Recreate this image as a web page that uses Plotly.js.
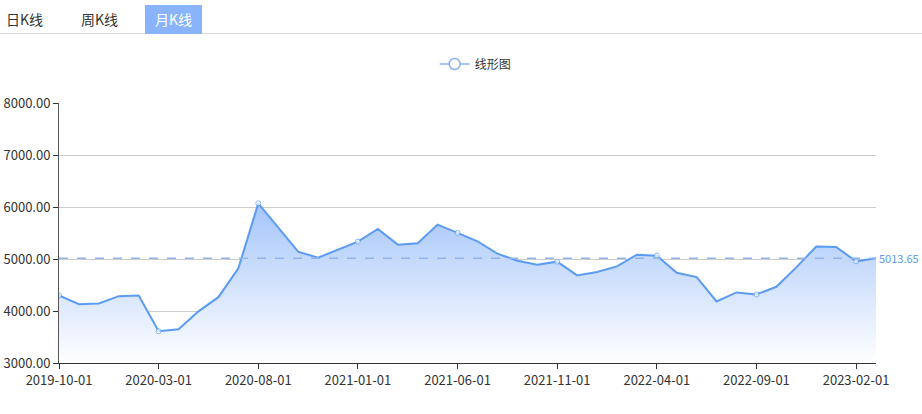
<!DOCTYPE html>
<html>
<head>
<meta charset="utf-8">
<script src="https://cdn.plot.ly/plotly-3.0.1.min.js"></script>
<style>
  body { margin: 0; background: #fff; font-family: "Noto Sans CJK SC", sans-serif; }
  #wrap { position: relative; width: 922px; height: 414px; overflow: hidden; }
  #tabs { position: absolute; left: 0; top: 0; width: 922px; height: 33px; border-bottom: 1px solid #ddd; z-index: 2; }
  .tab { position: absolute; top: 5px; height: 29px; line-height: 29px; font-size: 14px; color: #333; padding: 0 10px; }
  .tab.on { background: #89b4fc; color: #fff; }
  #myDiv { position: absolute; left: 0; top: 0; width: 922px; height: 414px; }
</style>
</head>
<body>
<div id="wrap">
  <div id="myDiv"></div>
  <div id="tabs">
    <div class="tab" style="left:-4px">日K线</div>
    <div class="tab" style="left:71px">周K线</div>
    <div class="tab on" style="left:145px">月K线</div>
  </div>
</div>
<script>
// monthly closes, 2019-10 .. 2023-03
var months = ['2019-10-01','2019-11-01','2019-12-01','2020-01-01','2020-02-01','2020-03-01',
  '2020-04-01','2020-05-01','2020-06-01','2020-07-01','2020-08-01','2020-09-01','2020-10-01',
  '2020-11-01','2020-12-01','2021-01-01','2021-02-01','2021-03-01','2021-04-01','2021-05-01',
  '2021-06-01','2021-07-01','2021-08-01','2021-09-01','2021-10-01','2021-11-01','2021-12-01',
  '2022-01-01','2022-02-01','2022-03-01','2022-04-01','2022-05-01','2022-06-01','2022-07-01',
  '2022-08-01','2022-09-01','2022-10-01','2022-11-01','2022-12-01','2023-01-01','2023-02-01',
  '2023-03-01'];
var prices = [4300, 4131, 4145, 4286, 4299, 3610, 3649, 3993, 4266, 4820, 6070,
  5610, 5141, 5025, 5187, 5334, 5579, 5276, 5303, 5662, 5502, 5341, 5103, 4968,
  4890, 4949, 4685, 4749, 4858, 5083, 5064, 4736, 4653, 4183, 4357, 4318, 4466,
  4839, 5238, 5232, 4955, 5013.65];
var lastValue = 5013.65;
var tickMonths = months.filter(function (m, i) { return i % 5 === 0; });
var yTicks = [3000, 4000, 5000, 6000, 7000, 8000];

var blue = '#5b9cf2';
var markerSizes = months.map(function (m, i) { return i % 5 === 0 ? 5 : 0; });

var data = [{
  x: months,
  y: prices,
  type: 'scatter',
  mode: 'lines+markers',
  name: '线形图',
  showlegend: false,
  line: { color: blue, width: 2 },
  marker: { symbol: 'circle', size: markerSizes, color: '#fff', line: { color: blue, width: 1 } },
  fill: 'tozeroy',
  fillgradient: {
    type: 'vertical',
    start: 3000,
    stop: 6100,
    colorscale: [[0, 'rgba(255,255,255,1)'], [1, 'rgba(164,196,250,1)']]
  },
  hoverinfo: 'x+y'
}, {
  // legend entry only
  x: [null],
  y: [null],
  type: 'scatter',
  mode: 'lines+markers',
  name: '线形图',
  line: { color: '#8ab2ef', width: 1.5 },
  marker: { symbol: 'circle', size: 11, color: '#fff', line: { color: '#8ab2ef', width: 1.5 } },
  hoverinfo: 'skip'
}];

var layout = {
  width: 922,
  height: 414,
  margin: { l: 59, r: 46, t: 103, b: 51 },
  paper_bgcolor: '#fff',
  plot_bgcolor: '#fff',
  font: { family: '"Noto Sans CJK SC", sans-serif', size: 12, color: '#333' },
  showlegend: true,
  legend: {
    orientation: 'h', x: 0.51, xanchor: 'center', y: 1.15, yanchor: 'middle',
    font: { size: 12, color: '#333' }
  },
  xaxis: {
    type: 'category',
    range: [0, months.length - 1],
    tickvals: tickMonths,
    ticktext: tickMonths,
    ticks: 'outside', ticklen: 5, tickcolor: '#333',
    showline: true, linecolor: '#333', linewidth: 1,
    showgrid: false, zeroline: false,
    tickfont: { size: 13, color: '#333' }
  },
  yaxis: {
    range: [3000, 8000],
    tickvals: yTicks,
    tickformat: '.2f',
    ticks: 'outside', ticklen: 5, tickcolor: '#333',
    showline: true, linecolor: '#555', linewidth: 1,
    gridcolor: '#ccc', zeroline: false,
    tickfont: { size: 13, color: '#333' }
  },
  shapes: [{
    type: 'line', xref: 'paper', x0: 0, x1: 1, yref: 'y', y0: lastValue, y1: lastValue,
    line: { color: '#8fb4ee', width: 1.5, dash: 'dash' }
  }],
  annotations: [{
    xref: 'paper', x: 1, xanchor: 'left', xshift: 1, yref: 'y', y: lastValue,
    text: lastValue.toFixed(2), showarrow: false,
    font: { size: 11, color: blue }
  }]
};

Plotly.newPlot('myDiv', data, layout, { displayModeBar: false });
</script>
</body>
</html>
